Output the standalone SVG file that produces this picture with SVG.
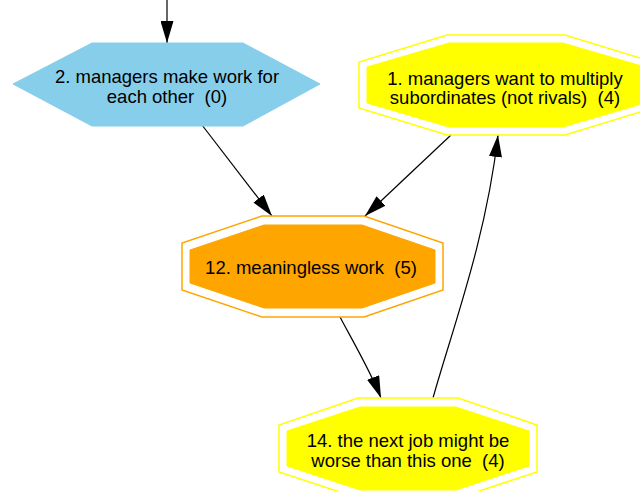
<svg xmlns="http://www.w3.org/2000/svg" width="640" height="491" viewBox="0 0 640 491">
  <style>
    .lbl { font-family: "Liberation Sans", Arial, sans-serif; font-size: 18.5px; fill: #000; text-anchor: middle; white-space: pre; }
    .edge { fill: none; stroke: #000; stroke-width: 1.2; marker-end: url(#arrow); }
    .outer-y { fill: none; stroke: #ffff00; stroke-width: 1.5; }
    .inner-y { fill: #ffff00; stroke: #ffff00; stroke-width: 1; }
    .outer-o { fill: none; stroke: #ffa500; stroke-width: 1.5; }
    .inner-o { fill: #ffa500; stroke: #ffa500; stroke-width: 1; }
  </style>
  <defs>
    <marker id="arrow" viewBox="0 0 22 13" refX="22" refY="6.5" markerWidth="22" markerHeight="13" markerUnits="userSpaceOnUse" orient="auto">
      <path d="M0,0 L22,6.5 L0,13 z" fill="#000"/>
    </marker>
  </defs>
  <rect width="640" height="491" fill="#fff"/>

  <g id="connectors">
    <path class="edge" d="M167,0 L167,43"/>
    <path class="edge" d="M202,125 L272,216"/>
    <path class="edge" d="M451,135 L365,216"/>
    <path class="edge" d="M340,317 C350,336 371,372 381,398"/>
    <path class="edge" d="M433,398 C452,330 486,240 498,135"/>
  </g>

  <g id="node2">
    <polygon points="92,43 243,43 320,84 243,126 92,126 13,84" fill="#87ceeb" stroke="#87ceeb"/>
    <text class="lbl" x="167" y="83">2. managers make work for</text>
    <text class="lbl" x="167" y="103">each other  (0)</text>
  </g>

  <g id="node1">
    <polygon class="outer-y" points="447,35 565,35 653,62 653,108 565,135 447,135 359,108 359,62"/>
    <polygon class="inner-y" points="449,43 563,43 645,67 645,103 563,127 449,127 367,103 367,67"/>
    <text class="lbl" x="505" y="85">1. managers want to multiply</text>
    <text class="lbl" x="505" y="104">subordinates (not rivals)  (4)</text>
  </g>

  <g id="node12">
    <polygon class="outer-o" points="262,216 364,216 443,243 443,290 364,317 262,317 182,290 182,243"/>
    <polygon class="inner-o" points="264,225 362,225 435,250 435,283 362,308 264,308 190,283 190,250"/>
    <text class="lbl" x="311" y="274">12. meaningless work  (5)</text>
  </g>

  <g id="node14">
    <polygon class="outer-y" points="358,398 458,398 537,425 537,472 458,498 358,498 279,472 279,425"/>
    <polygon class="inner-y" points="360,407 456,407 529,431 529,466 456,490 360,490 287,466 287,431"/>
    <text class="lbl" x="408" y="447">14. the next job might be</text>
    <text class="lbl" x="408" y="467">worse than this one  (4)</text>
  </g>
</svg>
